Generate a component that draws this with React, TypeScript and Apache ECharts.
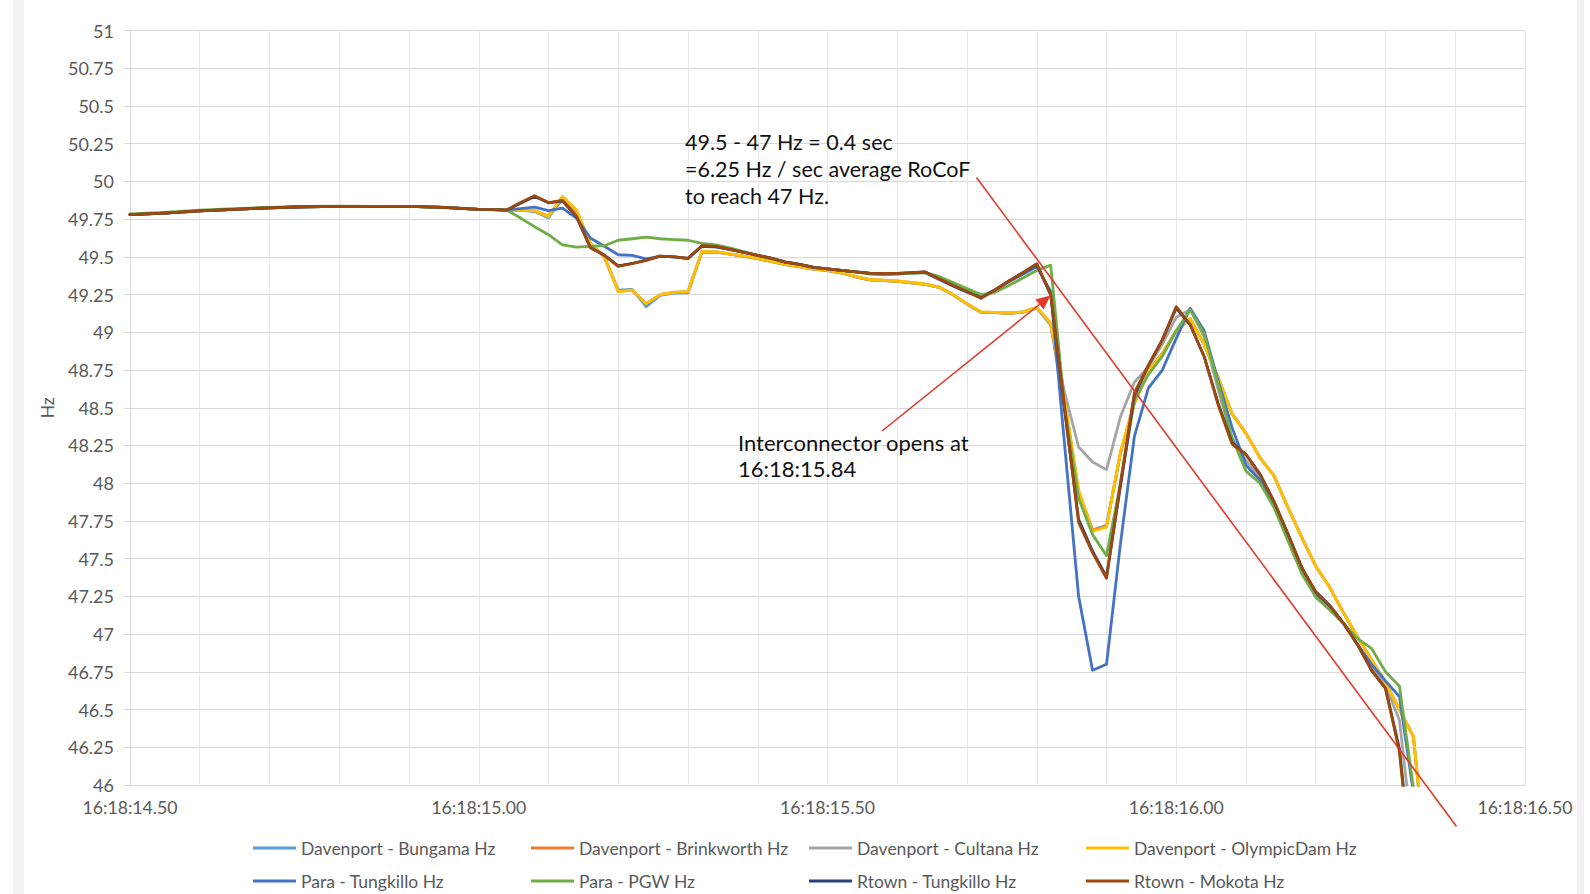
import React, { useEffect, useRef } from 'react';
import * as echarts from 'echarts';

const TIMES = [
  14.5, 14.55, 14.6, 14.65, 14.7, 14.75, 14.8, 14.85, 14.9, 14.95, 15.0,
  15.02, 15.04, 15.06, 15.08, 15.1, 15.12, 15.14, 15.16, 15.18, 15.2,
  15.22, 15.24, 15.26, 15.28, 15.3, 15.32, 15.34, 15.36, 15.38, 15.4,
  15.42, 15.44, 15.46, 15.48, 15.5, 15.52, 15.54, 15.56, 15.58, 15.6,
  15.62, 15.64, 15.66, 15.68, 15.7, 15.72, 15.74, 15.76, 15.78, 15.8,
  15.82, 15.84, 15.86, 15.88, 15.9, 15.92, 15.94, 15.96, 15.98, 16.0,
  16.02, 16.04, 16.06, 16.08, 16.1, 16.12, 16.14, 16.16, 16.18, 16.2,
  16.22, 16.24, 16.26, 16.28, 16.3, 16.32, 16.34, 16.36,
];

const BUNGAMA = [
  49.78, 49.79, 49.805, 49.815, 49.825, 49.832, 49.835, 49.835, 49.835, 49.828, 49.815,
  49.813, 49.81, 49.808, 49.8, 49.76, 49.885, 49.8, 49.585, 49.5, 49.28,
  49.285, 49.17, 49.245, 49.26, 49.262, 49.53, 49.532, 49.518, 49.503, 49.488,
  49.468, 49.448, 49.433, 49.418, 49.408, 49.393, 49.368, 49.348, 49.343, 49.338,
  49.328, 49.318, 49.298, 49.248, 49.188, 49.133, 49.13, 49.126, 49.133, 49.16,
  49.05, 48.5, 47.92, 47.69, 47.72, 48.2, 48.53, 48.74, 48.86, 49.01,
  49.09, 48.92, 48.7, 48.46, 48.33, 48.17, 48.05, 47.84, 47.64, 47.45,
  47.31, 47.14, 46.98, 46.83, 46.68, 46.5, 46.32, 45.4,
];
const BRINKWORTH = [
  49.78, 49.79, 49.805, 49.815, 49.825, 49.832, 49.835, 49.835, 49.835, 49.828, 49.815,
  49.813, 49.81, 49.81, 49.805, 49.77, 49.895, 49.805, 49.59, 49.5, 49.275,
  49.28, 49.19, 49.25, 49.265, 49.27, 49.535, 49.533, 49.518, 49.503, 49.488,
  49.468, 49.448, 49.433, 49.418, 49.408, 49.393, 49.368, 49.348, 49.343, 49.338,
  49.328, 49.318, 49.298, 49.248, 49.188, 49.133, 49.13, 49.126, 49.133, 49.163,
  49.06, 48.55, 47.95, 47.69, 47.71, 48.2, 48.53, 48.74, 48.86, 49.01,
  49.09, 48.92, 48.7, 48.46, 48.33, 48.17, 48.05, 47.84, 47.64, 47.45,
  47.31, 47.14, 46.98, 46.83, 46.68, 46.5, 46.32, 45.4,
];
const CULTANA = [
  49.78, 49.79, 49.805, 49.815, 49.825, 49.832, 49.835, 49.835, 49.835, 49.828, 49.815,
  49.813, 49.81, 49.81, 49.806, 49.768, 49.9, 49.81, 49.59, 49.503, 49.27,
  49.28, 49.19, 49.25, 49.265, 49.27, 49.535, 49.535, 49.52, 49.505, 49.49,
  49.47, 49.45, 49.435, 49.42, 49.41, 49.395, 49.37, 49.35, 49.345, 49.34,
  49.33, 49.32, 49.3, 49.25, 49.19, 49.135, 49.132, 49.128, 49.135, 49.165,
  49.05, 48.6, 48.24, 48.14, 48.09, 48.44, 48.67, 48.77, 48.92, 49.1,
  49.15, 48.97, 48.62, 48.3, 48.15, 48.04, 47.87, 47.65, 47.43, 47.27,
  47.17, 47.07, 46.93, 46.78, 46.66, 46.43, 45.6, 44.6,
];
const OLYMPICDAM = [
  49.78, 49.79, 49.805, 49.815, 49.825, 49.832, 49.835, 49.835, 49.835, 49.828, 49.815,
  49.813, 49.81, 49.81, 49.806, 49.768, 49.9, 49.81, 49.59, 49.503, 49.27,
  49.28, 49.19, 49.25, 49.265, 49.27, 49.535, 49.535, 49.52, 49.505, 49.49,
  49.47, 49.45, 49.435, 49.42, 49.41, 49.395, 49.37, 49.35, 49.345, 49.34,
  49.33, 49.32, 49.3, 49.25, 49.19, 49.135, 49.132, 49.128, 49.135, 49.165,
  49.06, 48.55, 47.95, 47.68, 47.71, 48.21, 48.53, 48.74, 48.86, 49.01,
  49.09, 48.92, 48.7, 48.46, 48.33, 48.17, 48.05, 47.84, 47.64, 47.45,
  47.31, 47.14, 46.98, 46.83, 46.68, 46.5, 46.32, 45.4,
];
const PARA_TUNGKILLO = [
  49.78, 49.79, 49.805, 49.815, 49.825, 49.832, 49.835, 49.835, 49.835, 49.828, 49.815,
  49.813, 49.81, 49.82, 49.83, 49.806, 49.823, 49.757, 49.625, 49.57, 49.514,
  49.51, 49.486, 49.503, 49.5, 49.49, 49.57, 49.565, 49.55, 49.53, 49.51,
  49.49, 49.465, 49.45, 49.43, 49.42, 49.41, 49.4, 49.392, 49.388, 49.388,
  49.392, 49.395, 49.35, 49.305, 49.265, 49.235, 49.28, 49.335, 49.385, 49.435,
  49.27, 48.25, 47.25, 46.76, 46.8, 47.6, 48.31, 48.63, 48.75, 48.96,
  49.16, 49.01, 48.68, 48.37, 48.12, 48.02, 47.86, 47.665, 47.44, 47.27,
  47.17, 47.07, 46.93, 46.8, 46.69, 46.585, 45.95, 44.8,
];
const PARA_PGW = [
  49.785, 49.795, 49.81, 49.82, 49.828, 49.834, 49.836, 49.835, 49.834, 49.827, 49.815,
  49.815, 49.81, 49.757, 49.7, 49.647, 49.58, 49.565, 49.57, 49.574, 49.61,
  49.62, 49.63, 49.62, 49.614, 49.61, 49.59, 49.58, 49.56, 49.535, 49.51,
  49.49, 49.465, 49.45, 49.43, 49.42, 49.41, 49.4, 49.385, 49.38, 49.385,
  49.39, 49.395, 49.37, 49.33, 49.29, 49.25, 49.265, 49.31, 49.36, 49.41,
  49.445, 48.5, 47.9, 47.66, 47.52, 48.0, 48.55, 48.72, 48.84, 49.01,
  49.15, 48.99, 48.66, 48.3, 48.08, 48.0, 47.84, 47.62, 47.4, 47.245,
  47.16, 47.07, 46.97, 46.905, 46.75, 46.655, 45.98, 44.8,
];
const RTOWN_TUNGKILLO = [
  49.78, 49.79, 49.805, 49.815, 49.825, 49.832, 49.835, 49.835, 49.835, 49.828, 49.815,
  49.813, 49.81, 49.855, 49.9, 49.858, 49.87, 49.768, 49.562, 49.512, 49.44,
  49.456, 49.478, 49.505, 49.5, 49.49, 49.572, 49.568, 49.55, 49.53, 49.51,
  49.49, 49.465, 49.45, 49.43, 49.42, 49.41, 49.4, 49.392, 49.39, 49.39,
  49.395, 49.4, 49.355, 49.31, 49.27, 49.227, 49.28, 49.34, 49.395, 49.45,
  49.25, 48.48, 47.76, 47.55, 47.38, 47.98, 48.58, 48.78, 48.95, 49.16,
  49.05, 48.84, 48.53, 48.27, 48.19, 48.06, 47.88, 47.665, 47.44, 47.28,
  47.19, 47.07, 46.93, 46.76, 46.64, 46.24, 45.35, 44.5,
];
const RTOWN_MOKOTA = [
  49.78, 49.79, 49.805, 49.815, 49.825, 49.832, 49.835, 49.835, 49.835, 49.828, 49.815,
  49.813, 49.81, 49.86, 49.905, 49.86, 49.874, 49.77, 49.56, 49.51, 49.437,
  49.455, 49.477, 49.505, 49.5, 49.49, 49.575, 49.57, 49.55, 49.53, 49.51,
  49.49, 49.465, 49.45, 49.43, 49.42, 49.41, 49.4, 49.392, 49.39, 49.39,
  49.395, 49.4, 49.355, 49.31, 49.27, 49.225, 49.28, 49.34, 49.395, 49.455,
  49.25, 48.5, 47.74, 47.54, 47.37, 48.0, 48.6, 48.78, 48.95, 49.17,
  49.05, 48.84, 48.52, 48.26, 48.19, 48.06, 47.88, 47.665, 47.44, 47.28,
  47.19, 47.07, 46.93, 46.76, 46.64, 46.22, 45.3, 44.5,
];

const SERIES_NAMES = [
  'Davenport - Bungama Hz',
  'Davenport - Brinkworth Hz',
  'Davenport - Cultana Hz',
  'Davenport - OlympicDam Hz',
  'Para - Tungkillo Hz',
  'Para - PGW Hz',
  'Rtown - Tungkillo Hz',
  'Rtown - Mokota Hz',
];
const SERIES_VALUES = [
  BUNGAMA, BRINKWORTH, CULTANA, OLYMPICDAM,
  PARA_TUNGKILLO, PARA_PGW, RTOWN_TUNGKILLO, RTOWN_MOKOTA,
];
const SERIES_COLORS = [
  '#5B9BD5', '#ED7D31', '#A5A5A5', '#FFC000',
  '#4472C4', '#70AD47', '#264478', '#9E480E',
];

const X_TICK_LABELS: [number, string][] = [
  [14.5, '16:18:14.50'],
  [15.0, '16:18:15.00'],
  [15.5, '16:18:15.50'],
  [16.0, '16:18:16.00'],
  [16.5, '16:18:16.50'],
];

const ANNOTATION_ROCOF = ['49.5 - 47 Hz = 0.4 sec', '=6.25 Hz / sec average RoCoF', 'to reach 47 Hz.'];
const ANNOTATION_IC = ['Interconnector opens at', '16:18:15.84'];

const FONT = 'Lato, "Open Sans", sans-serif';
const GREY_TEXT = '#595959';
const RED = '#E2382C';

export default function App() {
  const ref = useRef<HTMLDivElement>(null);

  useEffect(() => {
    if (!ref.current) return;
    const chart = echarts.init(ref.current, null, { renderer: 'svg' });

    const series = SERIES_NAMES.map((name, i) => ({
      name,
      type: 'line',
      data: TIMES.map((t, j) => [t, SERIES_VALUES[i][j]]),
      showSymbol: false,
      symbol: 'none',
      clip: true,
      lineStyle: { width: 2.8, color: SERIES_COLORS[i], join: 'round', cap: 'round' },
      itemStyle: { color: SERIES_COLORS[i] },
      z: 2 + i,
    }));

    const legendCols = [253, 531, 809, 1086];
    const legendRows = [848, 881];
    const legends = SERIES_NAMES.map((name, i) => ({
      show: true,
      orient: 'horizontal',
      left: legendCols[i % 4],
      top: legendRows[i < 4 ? 0 : 1] - 10,
      padding: 0,
      itemWidth: 43,
      itemHeight: 3,
      icon: 'rect',
      selectedMode: false,
      data: [name],
      textStyle: { color: GREY_TEXT, fontSize: 17.5, fontFamily: FONT, lineHeight: 20 },
    }));

    const graphic: any[] = [
      { type: 'rect', shape: { x: 13, y: 0, width: 11, height: 894 }, style: { fill: '#f2f2f2' }, silent: true },
      { type: 'rect', shape: { x: 1577, y: 0, width: 7, height: 894 }, style: { fill: '#f2f2f2' }, silent: true },
      {
        type: 'line',
        shape: { x1: 976.5, y1: 177.4, x2: 1456.5, y2: 826.5 },
        style: { stroke: RED, lineWidth: 1.6 },
        z: 100,
      },
      {
        type: 'line',
        shape: { x1: 882, y1: 431, x2: 1040, y2: 304 },
        style: { stroke: RED, lineWidth: 1.6 },
        z: 100,
      },
      {
        type: 'polygon',
        shape: { points: [[1050.5, 295.5], [1043.6, 309.5], [1035.4, 299.4]] },
        style: { fill: RED },
        z: 100,
      },
    ];
    ANNOTATION_ROCOF.forEach((t, i) => {
      graphic.push({
        type: 'text',
        x: 685,
        y: 142 + i * 26.8,
        style: { text: t, fill: '#111', font: '21.5px ' + FONT, textAlign: 'left', textVerticalAlign: 'middle' },
        z: 101,
      });
    });
    ANNOTATION_IC.forEach((t, i) => {
      graphic.push({
        type: 'text',
        x: 738,
        y: 442 + i * 26.5,
        style: { text: t, fill: '#111', font: '22px ' + FONT, textAlign: 'left', textVerticalAlign: 'middle' },
        z: 101,
      });
    });

    chart.setOption({
      animation: false,
      backgroundColor: '#ffffff',
      grid: { left: 130, right: 65, top: 30.5, bottom: 109, containLabel: false },
      xAxis: {
        type: 'value',
        min: 14.5,
        max: 16.5,
        interval: 0.1,
        axisLine: { show: true, lineStyle: { color: '#d9d9d9', width: 1 } },
        axisTick: { show: false },
        splitLine: { show: true, lineStyle: { color: '#e8e8e8', width: 1 } },
        axisLabel: {
          color: GREY_TEXT,
          fontSize: 17.7,
          fontFamily: FONT,
          margin: 13,
          showMinLabel: true,
          showMaxLabel: true,
          formatter: (v: number) => {
            const hit = X_TICK_LABELS.find(([val]) => Math.abs(val - v) < 1e-6);
            return hit ? hit[1] : '';
          },
        },
      },
      yAxis: {
        type: 'value',
        min: 46,
        max: 51,
        interval: 0.25,
        name: 'Hz',
        nameLocation: 'middle',
        nameRotate: 90,
        nameGap: 74,
        nameTextStyle: { color: GREY_TEXT, fontSize: 17.5, fontFamily: FONT },
        axisLine: { show: true, lineStyle: { color: '#d9d9d9', width: 1 } },
        axisTick: { show: true, length: 6, lineStyle: { color: '#d9d9d9' } },
        splitLine: { show: true, lineStyle: { color: '#d9d9d9', width: 1 } },
        axisLabel: { color: GREY_TEXT, fontSize: 18, fontFamily: FONT, margin: 16 },
      },
      legend: legends,
      series,
      graphic,
    });

    return () => chart.dispose();
  }, []);

  return (
    <div
      ref={ref}
      style={{ position: 'absolute', left: 0, top: 0, width: 1590, height: 894, background: '#fff' }}
    />
  );
}
